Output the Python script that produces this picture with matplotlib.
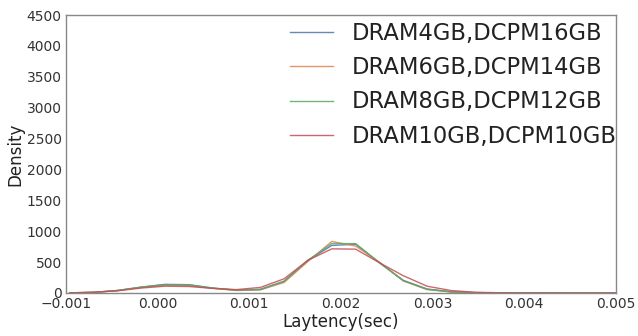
import numpy as np
import matplotlib
matplotlib.use('Agg')
import matplotlib.pyplot as plt

# KDE grid (sec)
latency = [-0.00096, -0.0007, -0.00044, -0.00018, 0.00008, 0.00034, 0.0006, 0.00086,
           0.00112, 0.00138, 0.00164, 0.0019, 0.00216, 0.00242, 0.00268, 0.00294,
           0.0032, 0.00346, 0.00372, 0.00398, 0.00424, 0.0045, 0.00476, 0.00502]

# density values per config
dram4 = [2, 10, 40, 95, 140, 135, 80, 45, 60, 190, 530, 770, 790, 490, 205, 65,
         20, 6, 2, 1, 0, 0, 0, 0]
dram6 = [2, 10, 38, 90, 125, 120, 75, 40, 50, 170, 510, 835, 760, 500, 195, 55,
         17, 5, 2, 1, 0, 0, 0, 0]
dram8 = [2, 10, 40, 95, 135, 130, 80, 45, 55, 190, 530, 800, 800, 490, 200, 60,
         18, 5, 2, 1, 0, 0, 0, 0]
dram10 = [3, 12, 35, 80, 110, 105, 75, 55, 90, 230, 530, 715, 710, 490, 280, 110,
          40, 12, 4, 2, 1, 0, 0, 0]

labels = ['DRAM4GB,DCPM16GB', 'DRAM6GB,DCPM14GB', 'DRAM8GB,DCPM12GB', 'DRAM10GB,DCPM10GB']
colors = ['#4C72B0', '#DD8452', '#55A868', '#C44E52']

fig = plt.figure(figsize=(6.38, 3.36), dpi=100)
ax = fig.add_axes([0.1034, 0.128, 0.862, 0.827])

for ys, lab, c in zip([dram4, dram6, dram8, dram10], labels, colors):
    ax.plot(latency, ys, color=c, lw=1.0, alpha=0.85, label=lab)

ax.set_xlim(-0.001, 0.005)
ax.set_ylim(0, 4500)
ax.set_xticks(np.arange(-0.001, 0.0051, 0.001))
ax.set_xticklabels(['\u22120.001', '0.000', '0.001', '0.002', '0.003', '0.004', '0.005'])
ax.set_yticks(range(0, 4501, 500))
ax.tick_params(length=0, labelsize=10, colors='#333333', pad=3)
for s in ax.spines.values():
    s.set_color('#888888')
    s.set_linewidth(1.0)

ax.set_xlabel('Laytency(sec)', fontsize=12, color='#222222', labelpad=1)
ax.set_ylabel('Density', fontsize=12, color='#222222', labelpad=2)

leg = ax.legend(loc='upper left', bbox_to_anchor=(0.4545, 0.935),
                bbox_transform=fig.transFigure, frameon=False, fontsize=16.3,
                handlelength=1.9, handletextpad=0.84, labelspacing=0.5,
                borderpad=0, borderaxespad=0)
for t in leg.get_texts():
    t.set_color('#222222')

fig.savefig('out.png', dpi=100)
